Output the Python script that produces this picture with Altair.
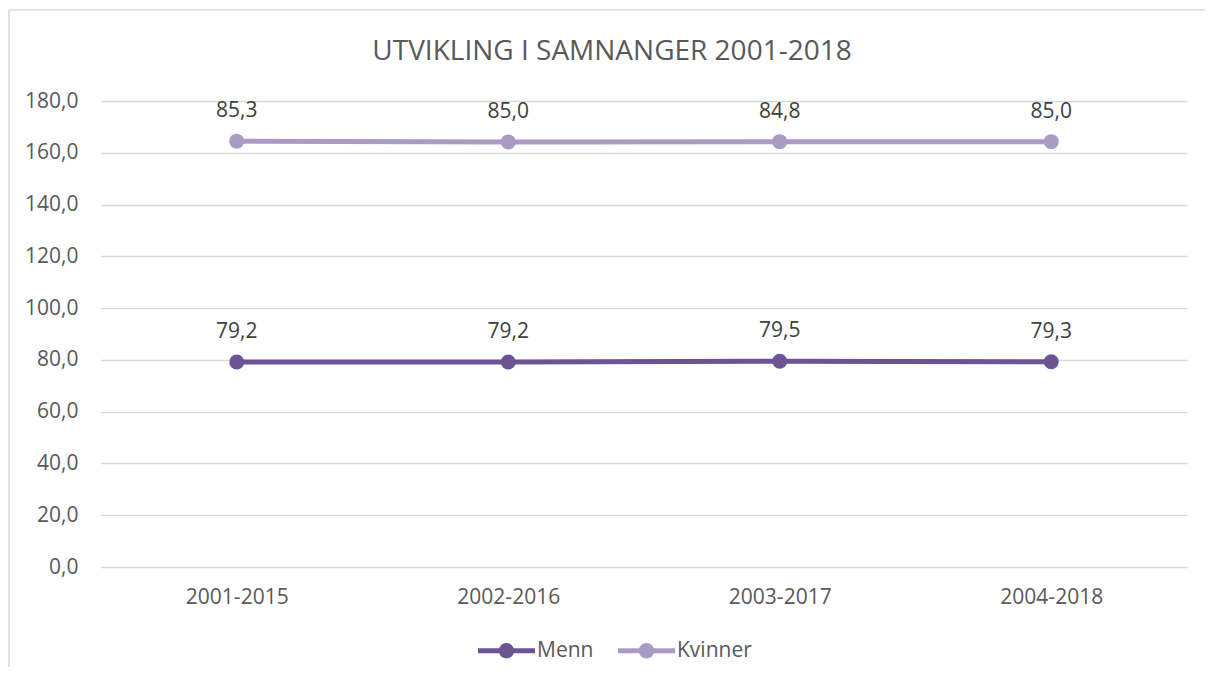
import altair as alt
import pandas as pd

periods = ["2001-2015", "2002-2016", "2003-2017", "2004-2018"]
series = ["Menn", "Kvinner"]
menn = [79.2, 79.2, 79.5, 79.3]
kvinner = [85.3, 85.0, 84.8, 85.0]
colors = ["#6B5394", "#A99BC3"]

rows = []
for i, p in enumerate(periods):
    rows.append({"period": p, "series": "Menn", "order": 0, "value": menn[i]})
    rows.append({"period": p, "series": "Kvinner", "order": 1, "value": kvinner[i]})
df = pd.DataFrame(rows)

FONT = "Open Sans"
GREY = "#595959"
FS = 21

legend_path = ("M-1,-0.09H1V0.09H-1Z "
               "M0.27,0A0.27,0.27,0,1,1,-0.27,0A0.27,0.27,0,1,1,0.27,0Z")

base = alt.Chart(df).transform_stack(
    stack="value", groupby=["period"], as_=["y0", "y1"],
    sort=[alt.SortField("order", order="ascending")]
).transform_calculate(
    label="replace(format(datum.value, '.1f'), '.', ',')"
)

x = alt.X("period:N", sort=periods, title=None,
          scale=alt.Scale(padding=0.5),
          axis=alt.Axis(labelAngle=0, domain=False, ticks=False, grid=False,
                        labelPadding=19, labelFontSize=FS, labelFont=FONT,
                        labelColor=GREY))
y = alt.Y("y1:Q", title=None,
          scale=alt.Scale(domain=[0, 180], nice=False, zero=True),
          axis=alt.Axis(values=list(range(0, 181, 20)), domain=False, ticks=False,
                        labelExpr="replace(format(datum.value, '.1f'), '.', ',')",
                        labelPadding=23, labelFontSize=FS, labelFont=FONT,
                        labelColor=GREY, gridColor="#d9d9d9", gridWidth=1.5))

legend = alt.Legend(title=None, orient="none", direction="horizontal",
                    legendX=377, legendY=521,
                    symbolType=legend_path, symbolSize=3249,
                    symbolStrokeWidth=0, symbolOpacity=1,
                    labelFontSize=FS, labelFont=FONT,
                    labelColor=GREY, labelOffset=2, columnPadding=24)
color = alt.Color("series:N", scale=alt.Scale(domain=series, range=colors),
                  legend=legend)

lines = base.mark_line(strokeWidth=5).encode(
    x=x, y=y, color=color, detail="series:N",
)

points = base.mark_point(filled=True, size=225, opacity=1).encode(
    x=x, y=y, color=color,
)

labels = base.mark_text(dy=-30, fontSize=FS, font=FONT, color="#404040",
                        baseline="middle").encode(
    x=x, y=y, text="label:N"
)

frame_df = pd.DataFrame({"a": [0]})
top_border = alt.Chart(frame_df).mark_rule(color="#d9d9d9", strokeWidth=1.5).encode(
    x=alt.value(-92), x2=alt.value(1104), y=alt.value(-91))
left_border = alt.Chart(frame_df).mark_rule(color="#d9d9d9", strokeWidth=1.5).encode(
    x=alt.value(-92), y=alt.value(-91), y2=alt.value(600))

chart = alt.layer(top_border, left_border, lines, points, labels).properties(
    width=1086, height=466,
    title=alt.Title("UTVIKLING I SAMNANGER 2001-2018", fontSize=28, font=FONT,
                    fontWeight="normal", color=GREY, offset=-57, dx=-32),
    autosize=alt.AutoSizeParams(type="none"),
    padding={"left": 93, "top": 93, "right": 18, "bottom": 100},
).configure_view(stroke=None)

chart.save("out.html", embed_options={"renderer": "svg", "actions": False})
